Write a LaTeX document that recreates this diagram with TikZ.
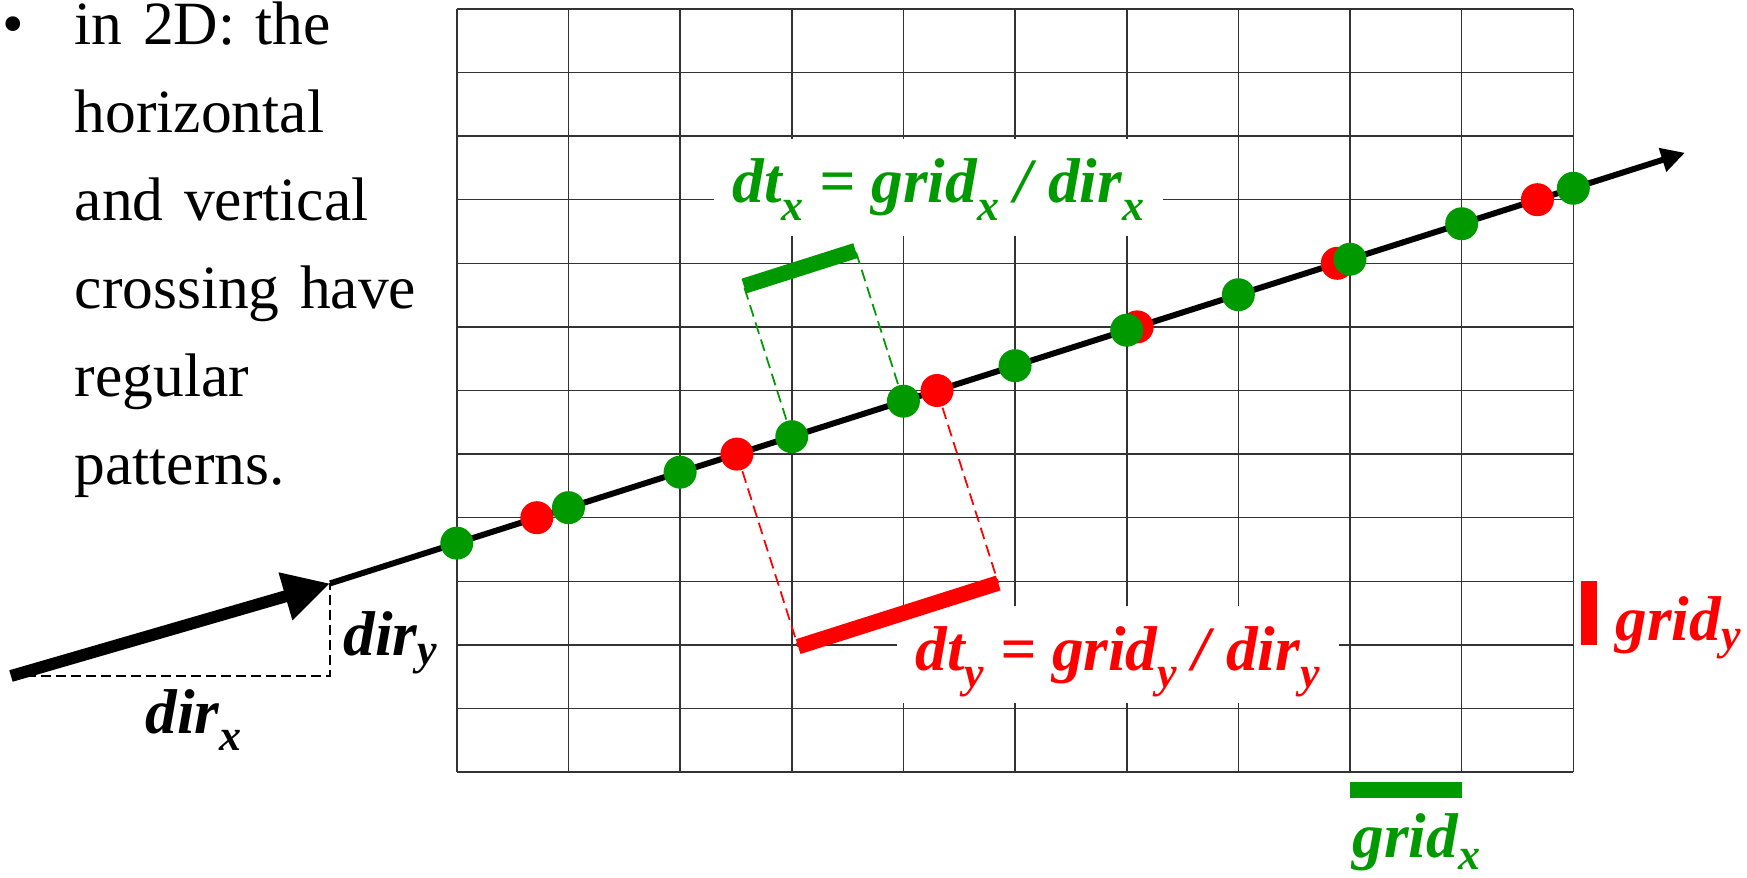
\documentclass[tikz,border=0pt]{standalone}
\usepackage{fontspec}
\setmainfont{Liberation Serif}
\usetikzlibrary{arrows.meta, positioning, calc}
\definecolor{crossx}{RGB}{0, 153, 0}
\definecolor{crossy}{RGB}{255, 0, 0}
\newcommand{\bodyfont}{\fontsize{17.5pt}{25pt}\selectfont}
\newcommand{\symfont}{\fontsize{18pt}{18pt}\selectfont\bfseries\itshape}
\newcommand{\lowsub}[2][0.28em]{\raisebox{-#1}{\fontsize{12.5pt}{12.5pt}\selectfont #2}}
\tikzset{
    gridline/.style={black!80, line width=0.45pt, xstep=1.1165cm, ystep=0.636cm},
    ray/.style={line width=1.7pt, -{Triangle[length=0.236cm, width=0.235cm]}},
    dirline/.style={line width=3.4pt, -{Triangle[length=0.465cm, width=0.465cm]}},
    dirdash/.style={line width=0.6pt, dash pattern=on 0.1cm off 0.05cm},
    proj/.style={line width=0.5pt, dash pattern=on 0.12cm off 0.06cm},
    barline/.style={line width=4.4pt},
    symtext/.style={inner sep=0pt, anchor=base west, font=\symfont},
    formula/.style={fill=white, anchor=base west, font=\symfont, inner xsep=0.19cm,
        inner ysep=0.18cm, text height=0.46cm, text depth=0.15cm}
}

\begin{document}
\begin{tikzpicture}
    \useasboundingbox (0,0) rectangle (17.47,8.77);

    \node[anchor=base west, inner sep=0pt, font=\bodyfont] (bullet) at (0.02,8.32) {•};
    \node[anchor=base west, inner sep=0pt, text width=4cm, align=left, font=\bodyfont] (intro) at (0.74,8.32)
        {in 2D: the\\ horizontal\\ and vertical\\ crossing have\\ regular\\ patterns.};

    \begin{scope}[shift={(4.568,1.049)}, x=1.1165cm, y=0.636cm]
        \draw[gridline] (0,0) grid (10,12);

        \coordinate (tail) at (-3.993,1.511);
        \coordinate (tip) at (-1.135,2.967);
        \coordinate (head) at (11,9.738);
        \coordinate (corner) at (tip |- tail);
        \foreach \c in {0,...,10}
            \coordinate (gx\c) at (\c,{3.6+0.558*\c});
        \foreach \r in {4,...,9}
            \coordinate (ry\r) at ({(\r-3.6)/0.558},\r);

        \draw[barline, crossy] (10.14,2) -- (10.14,3);
        \draw[barline, crossx] (8,-0.281) -- (9,-0.281);
    \end{scope}

    \node[formula, text=crossx] (dtx) at (7.13,6.74) {dt\lowsub{x} = grid\lowsub{x} / dir\lowsub{x}};
    \node[formula, text=crossy] (dty) at (8.96,2.07) {dt\lowsub{y} = grid\lowsub{y} / dir\lowsub{y}};

    \coordinate (xa) at ($(gx3)!1.58cm!90:(gx4)$);
    \coordinate (xb) at ($(gx4)!1.58cm!-90:(gx3)$);
    \coordinate (ya) at ($(ry5)!2.02cm!-90:(ry6)$);
    \coordinate (yb) at ($(ry6)!2.02cm!90:(ry5)$);
    \draw[proj, crossx] (gx3) -- (xa);
    \draw[proj, crossx] (gx4) -- (xb);
    \draw[proj, crossy] (ry5) -- (ya);
    \draw[proj, crossy] (ry6) -- (yb);
    \draw[barline, crossx] (xa) -- (xb);
    \draw[barline, crossy] (ya) -- (yb);

    \draw[dirdash] (tail) -- (corner) -- (tip);
    \draw[dirline] (tail) -- (tip);
    \draw[ray] (tip) -- (head);

    \foreach \r in {4,...,9}
        \fill[crossy] (ry\r) circle[radius=0.165cm];
    \foreach \c in {0,...,10}
        \fill[crossx] (gx\c) circle[radius=0.165cm];

    \node[symtext] (dirx) at (1.45,1.44) {dir\lowsub{x}};
    \node[symtext] (diry) at (3.43,2.22) {dir\lowsub[0.15em]{y}};
    \node[symtext, text=crossy] (gridy) at (16.15,2.37) {grid\lowsub[0.15em]{y}};
    \node[symtext, text=crossx] (gridx) at (13.52,0.2) {grid\lowsub[0.2em]{x}};
\end{tikzpicture}
\end{document}
